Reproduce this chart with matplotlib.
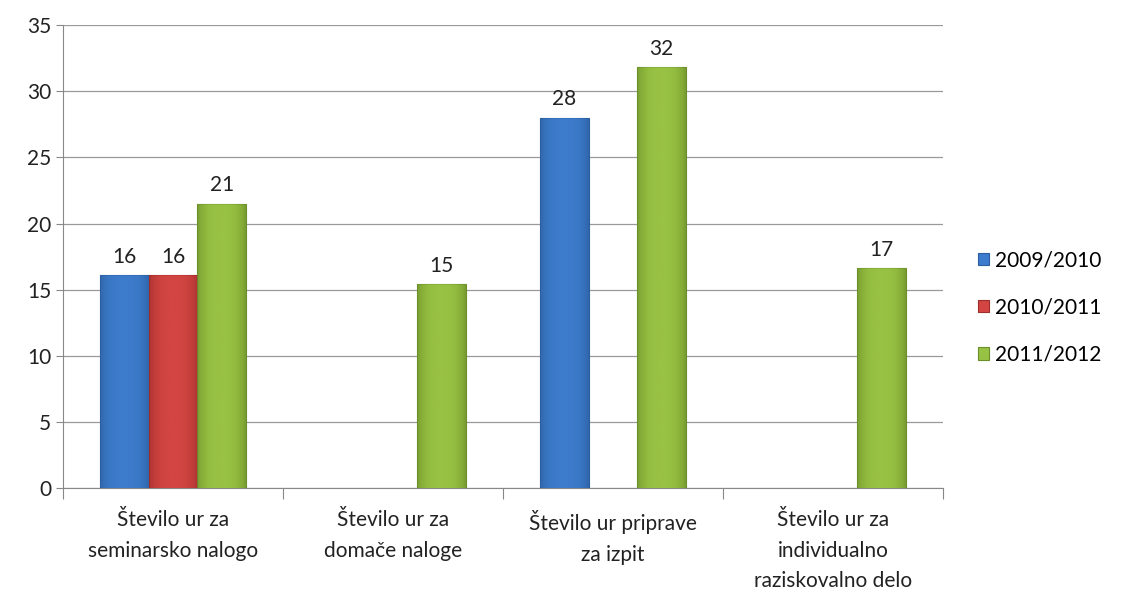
import matplotlib.pyplot as plt
import numpy as np
from matplotlib.colors import LinearSegmentedColormap

categories = ["Število ur za\nseminarsko nalogo", "Število ur za\ndomače naloge",
              "Število ur priprave\nza izpit", "Število ur za\nindividualno\nraziskovalno delo"]
series = ["2009/2010", "2010/2011", "2011/2012"]
v2009 = [16.1, 0, 28.0, 0]
v2010 = [16.1, 0, 0, 0]
v2011 = [21.5, 15.4, 31.8, 16.6]
labels2009 = ["16", "", "28", ""]
labels2010 = ["16", "", "", ""]
labels2011 = ["21", "15", "32", "17"]

colors = ["#3d7ccc", "#d24542", "#98c243"]
dark = ["#2b5e9e", "#9e2d2b", "#6c8e2a"]

plt.rcParams['font.family'] = ['Lato', 'DejaVu Sans']
fig = plt.figure(figsize=(11.31, 5.96), dpi=100)
ax = fig.add_axes([0.0557, 0.181, 0.778, 0.777])

x = np.arange(len(categories))
w = 0.222
grad = np.abs(np.linspace(-1, 1, 64))[None, :] ** 3
for i, (vals, labs) in enumerate([(v2009, labels2009), (v2010, labels2010), (v2011, labels2011)]):
    pos = x + (i - 1) * w
    bars = ax.bar(pos, vals, w, color=colors[i], edgecolor=dark[i], linewidth=0.8,
                  label=series[i], zorder=3)
    cmap = LinearSegmentedColormap.from_list("s", [colors[i], dark[i]])
    # soft horizontal shading for the bevelled look
    for b, val in zip(bars, vals):
        if val <= 0:
            b.set_linewidth(0)
            continue
        im = ax.imshow(grad, cmap=cmap, extent=[b.get_x(), b.get_x() + w, 0, val],
                       aspect='auto', zorder=3.5, alpha=0.7)
        im.set_clip_path(b)
    ax.bar_label(bars, labels=labs, padding=6, fontsize=15, color="#222222")

ax.set_xlim(-0.5, 3.5)
ax.set_ylim(0, 35)
ax.set_yticks(range(0, 36, 5))
ax.set_xticks(np.arange(-0.5, 4, 1))
ax.set_xticklabels([])
ax.set_xticks(x, minor=True)
ax.set_xticklabels(categories, minor=True, fontsize=15, color="#222222", linespacing=1.65)
ax.tick_params(axis='x', which='minor', length=0, pad=16)
ax.tick_params(axis='x', which='major', length=8, color="#888888")
ax.tick_params(axis='y', length=5, color="#888888", labelsize=15, labelcolor="#222222")
ax.yaxis.grid(True, color="#999999", linewidth=0.9, zorder=0)
ax.set_axisbelow(True)
for s in ["top", "right"]:
    ax.spines[s].set_visible(False)
for s in ["left", "bottom"]:
    ax.spines[s].set_color("#888888")

ax.legend(loc="center left", bbox_to_anchor=(1.03, 0.39), frameon=False, fontsize=15,
          handlelength=0.55, handleheight=0.55, labelspacing=1.3, handletextpad=0.3,
          borderaxespad=0)

fig.savefig("out.png", dpi=100)
